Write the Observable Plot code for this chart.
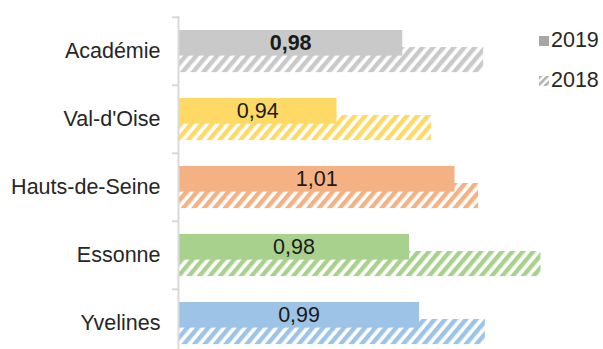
<!DOCTYPE html>
<html><head><meta charset="utf-8">
<script src="https://cdn.jsdelivr.net/npm/d3@7"></script>
<script src="https://cdn.jsdelivr.net/npm/@observablehq/plot@0.6"></script>
<style>
body{margin:0;background:#fff;}
#wrap{position:relative;width:603px;height:349px;overflow:hidden;font-family:"Liberation Sans",Arial,sans-serif;}
.legend{position:absolute;left:539px;font-size:21.5px;color:#262626;display:flex;align-items:center;line-height:1;}
.legend svg{margin-right:2px;}
</style></head><body><div id="wrap"></div>
<script>
const categories = ["Académie", "Val-d'Oise", "Hauts-de-Seine", "Essonne", "Yvelines"];
const values2019 = [0.979, 0.940, 1.010, 0.983, 0.989];
const values2018 = [1.027, 0.996, 1.024, 1.061, 1.028];
const colors = ["#c9c9c9", "#ffd966", "#f4b183", "#a9d18e", "#9dc3e6"];
const seriesNames = ["2019", "2018"];

const X0 = 0.846;
const locale = d3.formatLocale({decimal: ",", thousands: " ", grouping: [3], currency: ["", "€"]});
const fmt = locale.format(".2f");

const rows = categories.map((c, i) => ({
  cat: c, v2019: values2019[i], v2018: values2018[i], color: colors[i],
  hatch: `url(#hatch${i})`, label: fmt(values2019[i]), bold: i === 0
}));

const chart = Plot.plot({
  width: 603, height: 349,
  marginLeft: 178, marginRight: 47, marginTop: 16, marginBottom: 0,
  style: {fontFamily: "Liberation Sans, Arial, sans-serif", background: "white", overflow: "visible"},
  x: {domain: [X0, 1.0702], axis: null},
  y: {domain: categories, range: [16, 358], padding: 0},
  color: {type: "identity"},
  marks: [
    Plot.barX(rows, {y: "cat", x1: X0, x2: "v2018", fill: "hatch", insetTop: 30, insetBottom: 12.9}),
    Plot.barX(rows, {y: "cat", x1: X0, x2: "v2019", fill: "color", insetTop: 13, insetBottom: 29.4}),
    Plot.ruleX([X0], {stroke: "#d9d9d9", strokeWidth: 2}),
    Plot.ruleY(categories, {y: d => d, x1: X0, x2: X0, insetLeft: -6, dy: -34.2, stroke: "#d9d9d9", strokeWidth: 2}),
    Plot.axisY({tickSize: 0, tickPadding: 18, fontSize: 21.5, color: "#262626", label: null}),
    Plot.text(rows, {filter: d => !d.bold, y: "cat", x: d => (X0 + d.v2019) / 2, text: "label", dy: -8.2, fontSize: 21.5, fill: "#1a1a1a"}),
    Plot.text(rows, {filter: d => d.bold, y: "cat", x: d => (X0 + d.v2019) / 2, text: "label", dy: -8.2, fontSize: 21.5, fontWeight: "bold", fill: "#1a1a1a"})
  ]
});

const defs = d3.select(chart).insert("defs", ":first-child");
colors.forEach((c, i) => {
  const p = defs.append("pattern").attr("id", `hatch${i}`).attr("patternUnits", "userSpaceOnUse")
    .attr("width", 8).attr("height", 8).attr("patternTransform", "rotate(40)");
  p.append("rect").attr("width", 8).attr("height", 8).attr("fill", "white");
  p.append("rect").attr("width", 4.4).attr("height", 8).attr("fill", c);
});

const wrap = document.getElementById("wrap");
wrap.appendChild(chart);

const lg1 = document.createElement("div");
lg1.className = "legend";
lg1.style.top = "30px";
lg1.innerHTML = `<svg width="10" height="10"><rect width="10" height="10" fill="#a6a6a6"/></svg><span>${seriesNames[0]}</span>`;
wrap.appendChild(lg1);
const lg2 = document.createElement("div");
lg2.className = "legend";
lg2.style.top = "70px";
lg2.innerHTML = `<svg width="10" height="10"><defs><pattern id="lgh" patternUnits="userSpaceOnUse" width="5" height="5" patternTransform="rotate(45)"><rect width="5" height="5" fill="white"/><rect width="2.5" height="5" fill="#b0b0b0"/></pattern></defs><rect width="10" height="10" fill="url(#lgh)"/></svg><span>${seriesNames[1]}</span>`;
wrap.appendChild(lg2);
</script>
</body></html>
